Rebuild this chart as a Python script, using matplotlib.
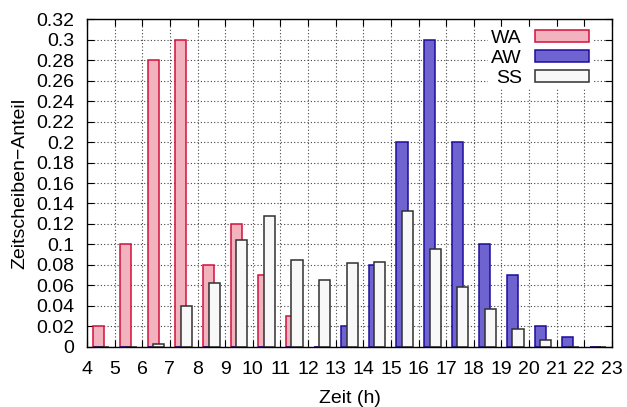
import matplotlib
matplotlib.use("Agg")
import matplotlib.pyplot as plt
import numpy as np

plt.rcParams['font.family'] = ['Liberation Sans', 'DejaVu Sans']

hours = np.arange(4, 23)
wa = [0.02, 0.1, 0.28, 0.3, 0.08, 0.12, 0.07, 0.03, 0, 0, 0, 0, 0, 0, 0, 0, 0, 0, 0]
aw = [0, 0, 0, 0, 0, 0, 0, 0, 0, 0.02, 0.08, 0.2, 0.3, 0.2, 0.1, 0.07, 0.02, 0.01, 0]
ss = [0, 0, 0.003, 0.04, 0.062, 0.104, 0.128, 0.085, 0.065, 0.082, 0.083,
      0.133, 0.096, 0.058, 0.037, 0.017, 0.007, 0, 0]

fig = plt.figure(figsize=(6.27, 4.07), dpi=100)
ax = fig.add_axes([0.1388, 0.148, 0.976 - 0.1388, 0.9526 - 0.148])

w = 0.4
ax.bar(hours + 0.4, wa, width=w, color='#f2b3bf', edgecolor='#d3103c', linewidth=1.1, label='WA')
ax.bar(hours + 0.4, aw, width=w, color='#6e63cf', edgecolor='#1c0c9c', linewidth=1.1, label='AW')
ax.bar(hours + 0.6, ss, width=w, color='#f8f8f8', edgecolor='#303030', linewidth=1.1, label='SS')

ax.set_xlim(4, 23)
ax.set_ylim(0, 0.32)
ax.set_xticks(np.arange(4, 24))
ax.set_yticks(np.arange(0, 0.321, 0.02))
ax.set_yticklabels(['0'] + ['%g' % round(v, 2) for v in np.arange(0.02, 0.321, 0.02)])
ax.tick_params(direction='in', top=True, right=True, length=5, labelsize=14, pad=9)
ax.tick_params(axis='x', pad=10)
ax.set_axisbelow(True)
ax.grid(True, linestyle=(0, (1, 2)), color='#444444', linewidth=0.8)
for s in ax.spines.values():
    s.set_linewidth(1.0)

ax.set_xlabel('Zeit (h)', fontsize=14, labelpad=9)
ax.set_ylabel('Zeitscheiben\u2212Anteil', fontsize=14, labelpad=6)

leg = ax.legend(loc='upper right', bbox_to_anchor=(0.962, 0.977), markerfirst=False, frameon=True,
                fontsize=14, handlelength=2.8, handleheight=0.57, labelspacing=0.15,
                handletextpad=0.65, borderpad=0.15, borderaxespad=0.0, fancybox=False)
leg.get_frame().set_facecolor('white')
leg.get_frame().set_edgecolor('none')
leg.get_frame().set_alpha(1)

fig.savefig('out.png', dpi=100)
